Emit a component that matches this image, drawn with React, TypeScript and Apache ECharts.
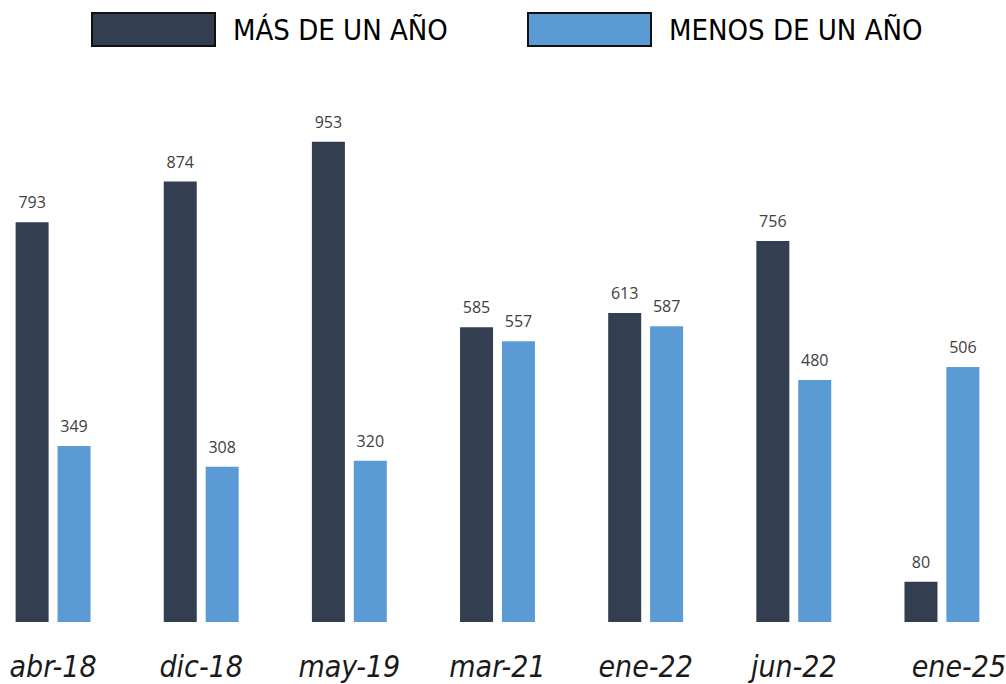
import React, { useEffect, useRef } from "react";
import * as echarts from "echarts";

const categories = ["abr-18", "dic-18", "may-19", "mar-21", "ene-22", "jun-22", "ene-25"];
const masDeUnAno = [793, 874, 953, 585, 613, 756, 80];
const menosDeUnAno = [349, 308, 320, 557, 587, 480, 506];
const seriesNames = ["MÁS DE UN AÑO", "MENOS DE UN AÑO"];

const DARK = "#333f50";
const LIGHT = "#5b9bd5";
const NARROW = "'Liberation Sans Narrow', 'DejaVu Sans Condensed', Lato, sans-serif";

export default function App() {
  const ref = useRef<HTMLDivElement>(null);
  useEffect(() => {
    if (!ref.current) return;
    const chart = echarts.init(ref.current, undefined, { renderer: "svg" });
    const label = {
      show: true,
      position: "top",
      distance: 12,
      color: "#404040",
      fontFamily: "'Open Sans', sans-serif",
      fontSize: 16,
    };
    const legendBase = {
      top: 7,
      itemWidth: 123,
      itemHeight: 33,
      itemGap: 0,
      icon: "rect",
      itemStyle: { borderColor: "#111", borderWidth: 2 },
      textStyle: { fontFamily: NARROW, fontSize: 29, color: "#000", padding: [0, 0, 0, 13] },
    };
    chart.setOption({
      animation: false,
      legend: [
        { ...legendBase, left: 86, data: [seriesNames[0]] },
        { ...legendBase, left: 522, data: [seriesNames[1]] },
      ],
      grid: { left: -21, right: -10, top: 118, bottom: 62, outerBoundsMode: "none" },
      xAxis: {
        type: "category",
        data: categories.map((c, i) =>
          i === categories.length - 1 ? { value: c, textStyle: { padding: [0, 0, 0, 34] } } : c
        ),
        axisLine: { show: false },
        axisTick: { show: false },
        axisLabel: {
          interval: 0,
          margin: 29,
          fontFamily: NARROW,
          fontStyle: "italic",
          fontSize: 30,
          color: "#1a1a1a",
        },
      },
      yAxis: { type: "value", min: 0, max: 1000, show: false },
      series: [
        {
          name: seriesNames[0],
          type: "bar",
          data: masDeUnAno,
          barWidth: 33,
          barGap: "27%",
          itemStyle: { color: DARK },
          label,
        },
        {
          name: seriesNames[1],
          type: "bar",
          data: menosDeUnAno,
          barWidth: 33,
          barGap: "27%",
          itemStyle: { color: LIGHT },
          label,
        },
      ],
    });
    return () => chart.dispose();
  }, []);
  return (
    <div
      ref={ref}
      style={{ position: "absolute", left: 0, top: 0, width: 1006, height: 684, background: "#fff" }}
    />
  );
}
